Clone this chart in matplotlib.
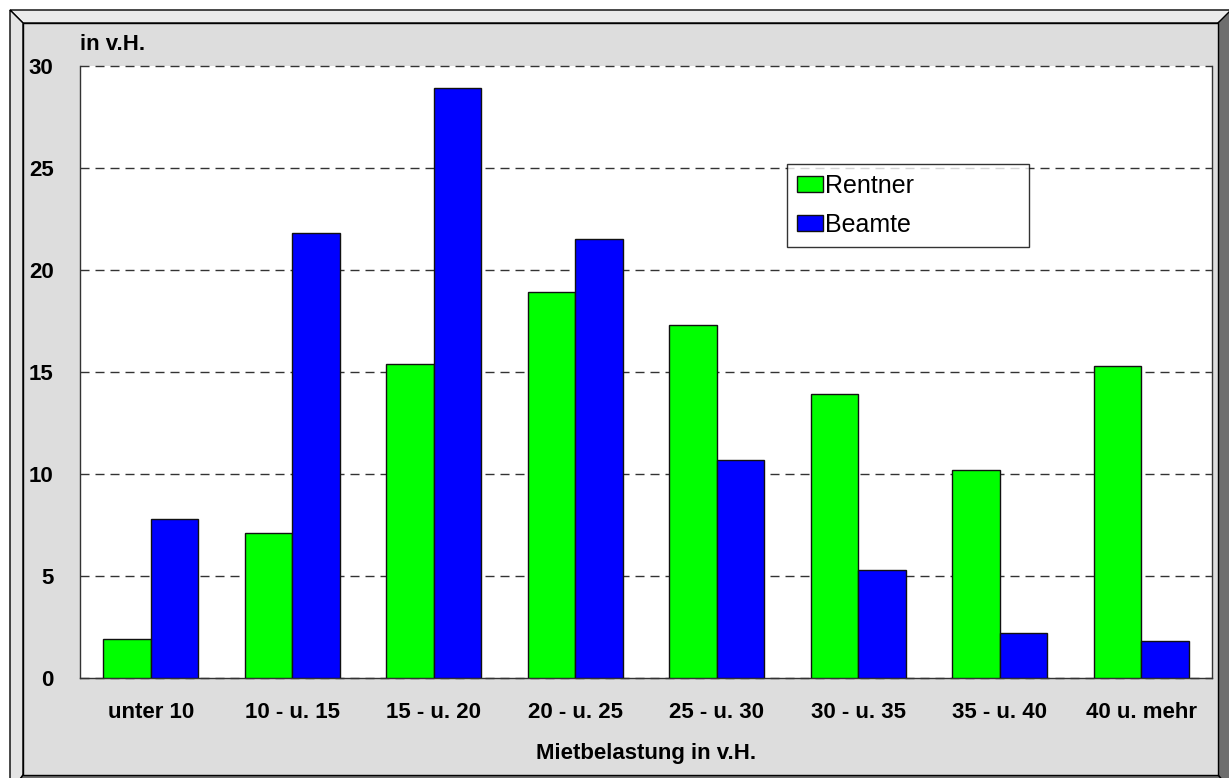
import numpy as np
from matplotlib import pyplot as plt
from matplotlib.patches import Polygon, Rectangle

plt.rcParams['font.family'] = ['Liberation Sans', 'DejaVu Sans']

# Mietbelastung classes and shares (in v.H.)
categories = ['unter 10', '10 - u. 15', '15 - u. 20', '20 - u. 25',
              '25 - u. 30', '30 - u. 35', '35 - u. 40', '40 u. mehr']
rentner = [1.9, 7.1, 15.4, 18.9, 17.3, 13.9, 10.2, 15.3]
beamte = [7.8, 21.8, 28.9, 21.5, 10.7, 5.3, 2.2, 1.8]
series_names = ['Rentner', 'Beamte']
yticks = [0, 5, 10, 15, 20, 25, 30]

W, H = 1229, 778
fig = plt.figure(figsize=(W / 100, H / 100), dpi=100)
fig.patch.set_facecolor('white')


# helper: pixel coords (top-left origin) -> figure fraction
def px(points):
    return [(x / W, 1 - y / H) for x, y in points]


# bevelled frame behind the chart
frame = [
    ([(10, 10), (1235, 10), (1218, 23), (23, 23)], '#ebebeb'),
    ([(10, 10), (23, 23), (23, 775), (10, 792)], '#e4e4e4'),
    ([(1218, 23), (1235, 6), (1235, 795), (1218, 775)], '#6e6e6e'),
    ([(23, 775), (1218, 775), (1235, 795), (10, 795)], '#6e6e6e'),
]
for pts, col in frame:
    fig.patches.append(Polygon(px(pts), closed=True, facecolor=col, edgecolor='black',
                               lw=1.0, transform=fig.transFigure, zorder=-2))
fig.patches.append(Rectangle((23 / W, 1 - 775 / H), (1218 - 23) / W, (775 - 23) / H,
                             facecolor='#dddddd', edgecolor='black', lw=1.0,
                             transform=fig.transFigure, zorder=-1))

ax = fig.add_axes([80 / W, 1 - 678 / H, 1132 / W, 612 / H])
ax.set_facecolor('white')

x = np.arange(len(categories))
bw = 0.335
ax.bar(x - bw / 2, rentner, bw, color='#00ff00', edgecolor='#111111', lw=1.0,
       label=series_names[0], zorder=3)
ax.bar(x + bw / 2, beamte, bw, color='#0000ff', edgecolor='#111111', lw=1.0,
       label=series_names[1], zorder=3)

ax.set_xlim(-0.5, len(categories) - 0.5)
ax.set_ylim(0, 30)
ax.set_yticks(yticks)
ax.set_xticks(x)
ax.set_xticklabels(categories)
ax.tick_params(axis='both', length=0, labelsize=16)
ax.tick_params(axis='y', pad=19)
ax.tick_params(axis='x', pad=17)
for lbl in ax.get_xticklabels() + ax.get_yticklabels():
    lbl.set_fontweight('bold')

ax.yaxis.grid(True, color='#333333', lw=1.0, linestyle=(0, (6.5, 4.3)))
ax.set_axisbelow(True)
for gl in ax.get_ygridlines():
    gl.set_clip_on(False)

ax.spines['top'].set_visible(False)
for s in ['left', 'bottom', 'right']:
    ax.spines[s].set_color('#333333')
    ax.spines[s].set_linewidth(1.0)

fig.text(80 / W, 1 - 45 / H, 'in v.H.', fontsize=16, fontweight='bold',
         ha='left', va='center')
fig.text(646 / W, 1 - 753 / H, 'Mietbelastung in v.H.', fontsize=16,
         fontweight='bold', ha='center', va='center')

leg = ax.legend(loc='upper left', bbox_to_anchor=(787 / W, 1 - 164 / H, 242 / W, 0),
                bbox_transform=fig.transFigure, mode='expand', fontsize=18,
                frameon=True, fancybox=False, shadow=False, borderaxespad=0,
                handlelength=1.05, handleheight=0.6, handletextpad=0.08,
                labelspacing=0.6, borderpad=0.4)
leg.get_frame().set_edgecolor('black')
leg.get_frame().set_linewidth(1.0)
leg.set_zorder(5)

fig.savefig('out.png', dpi=100)
